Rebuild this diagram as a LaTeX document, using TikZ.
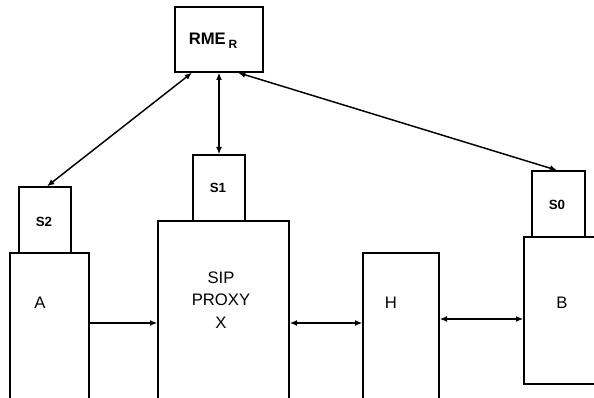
\documentclass[tikz,border=0pt]{standalone}
\usepackage{fontspec}
\setmainfont{Liberation Sans}
\usetikzlibrary{arrows.meta,positioning}

\begin{document}
\begin{tikzpicture}[x=0.75pt, y=-0.75pt, >={Latex[length=5.5pt,width=4.5pt]},
  box/.style={draw, line width=1pt, inner sep=0pt},
  link/.style={line width=1.1pt},
  lbl/.style={font=\fontsize{12.5}{17}\selectfont, align=center},
  slbl/.style={font=\fontsize{10}{12}\selectfont\bfseries}]
  \clip (0,0) rectangle (594,398);
  % Kasten oben
  \node[box, minimum width=66pt, minimum height=48.75pt] (rme) at (219,39.5) {};
  \node[font=\fontsize{12.5}{14}\selectfont\bfseries] (rmelbl) at (213,41) {RME\,\raisebox{-0.45ex}{\fontsize{9}{10}\selectfont R}};
  % Endpunkte
  \node[box, minimum width=59.25pt, minimum height=125.25pt] (a) at (49.5,336.5) {};
  \node[box, minimum width=39pt, minimum height=49.5pt] (s2) at (45,220) {};
  \node[box, minimum width=98.25pt, minimum height=149.25pt] (x) at (223.5,320.5) {};
  \node[box, minimum width=39pt, minimum height=49.5pt] (s1) at (219,188) {};
  \node[box, minimum width=57pt, minimum height=125.25pt] (h) at (401,336.5) {};
  \node[box, minimum width=64.5pt, minimum height=110.25pt] (b) at (567,310.5) {};
  \node[box, minimum width=39.75pt, minimum height=49.5pt] (s0) at (558.5,204) {};
  % Beschriftungen
  \node[lbl] (albl) at (40,303) {A};
  \node[slbl] (s2lbl) at (44,222) {S2};
  \node[lbl] (xlbl) at (221,300) {SIP\\PROXY\\X};
  \node[slbl] (s1lbl) at (218,188) {S1};
  \node[lbl] (hlbl) at (391,303) {H};
  \node[slbl] (s0lbl) at (557,205) {S0};
  \node[lbl] (blbl) at (562,303) {B};
  % Verbindungen
  \coordinate (row) at (0,323);
  \coordinate (rowb) at (0,319);
  \draw[link, <->] ([xshift=-20.25pt]rme.south) -- ([xshift=1.5pt]s2.north);
  \draw[link, <->] (rme.south) -- (s1.north);
  \draw[link, <->] ([xshift=14.25pt]rme.south) -- ([xshift=-1pt]s0.north);
  \draw[link, ->] (a.east |- row) -- (x.west |- row);
  \draw[link, <->] (x.east |- row) -- (h.west |- row);
  \draw[link, <->] (h.east |- rowb) -- (b.west |- rowb);
\end{tikzpicture}
\end{document}
